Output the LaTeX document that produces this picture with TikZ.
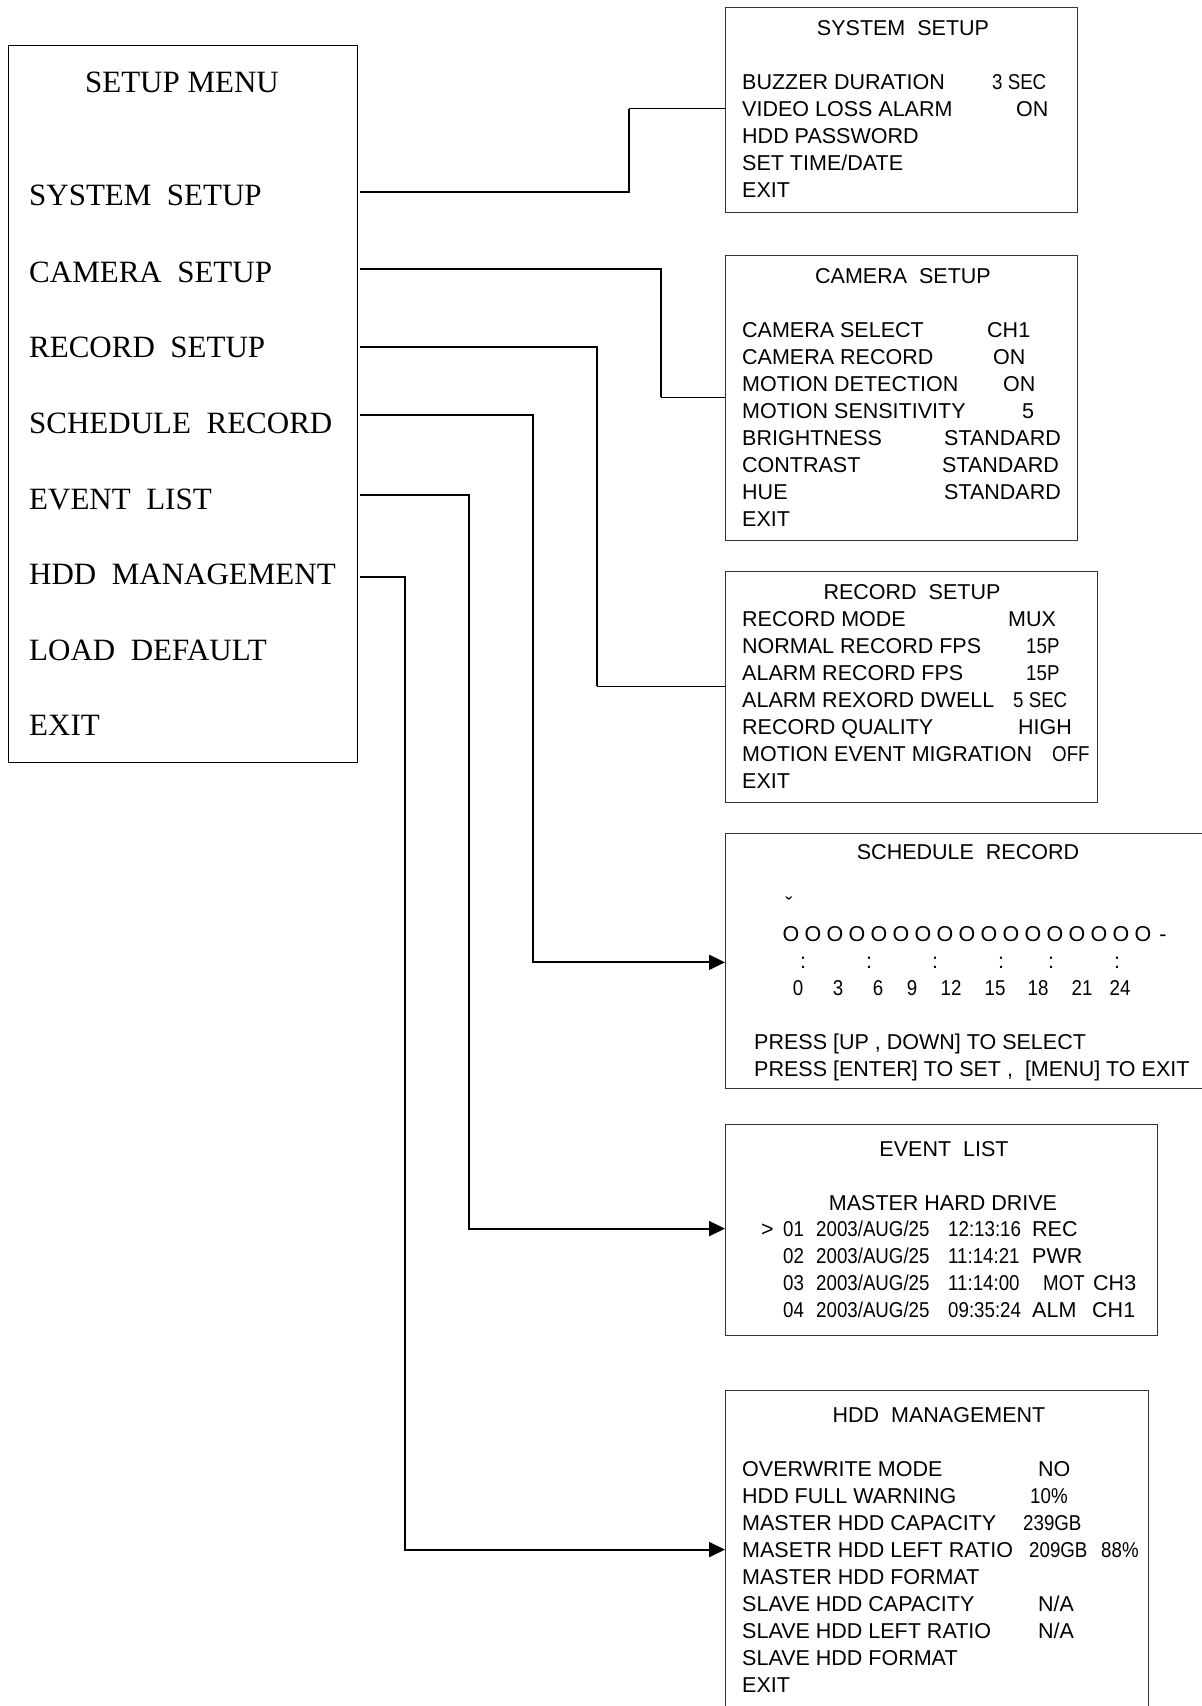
\documentclass[tikz,border=0pt]{standalone}
\usepackage{fontspec}
\setmainfont{Liberation Serif}
\newfontfamily\osdfont{Liberation Sans}
\newfontfamily\osdnarrow[FakeStretch=0.87]{Liberation Sans}
\usetikzlibrary{positioning}
\usetikzlibrary{arrows.meta}
\usetikzlibrary{calc}

\tikzset{
  panel/.style={rectangle,draw=black!80,line width=1pt,anchor=north west,inner sep=0pt,outer sep=0pt},
  menuitem/.style={anchor=base west,inner sep=0pt,font=\fontsize{31}{36}\selectfont},
  osd/.style={anchor=base west,inner sep=0pt,font=\osdfont\fontsize{21.5}{26}\selectfont},
  osdn/.style={osd,font=\osdnarrow\fontsize{21.5}{26}\selectfont},
  osdc/.style={osd,anchor=base},
  osdnc/.style={osdn,anchor=base},
  link/.style={line width=2pt},
  tail/.style={line width=1pt},
  arr/.style={line width=2pt,-{Triangle[length=16pt,width=15pt]}},
}

\begin{document}
\begin{tikzpicture}[x=1pt,y=-1pt]
\useasboundingbox (0,0) rectangle (1202,1706);
\clip (0,0) rectangle (1202,1706);

% main menu
\node at (8,45) [panel,draw=black,minimum width=349pt,minimum height=717pt] (menu) {};
\node at (182,92) [menuitem,anchor=base] (menu-title) {SETUP MENU};
\node at (29,205) [menuitem] (m-sys) {SYSTEM~~SETUP};
\node at (29,282) [menuitem] (m-cam) {CAMERA~~SETUP};
\node at (29,357) [menuitem] (m-rec) {RECORD~~SETUP};
\node at (29,433) [menuitem] (m-sch) {SCHEDULE~~RECORD};
\node at (29,509) [menuitem] (m-ev) {EVENT~~LIST};
\node at (29,584) [menuitem] (m-hdd) {HDD~~MANAGEMENT};
\node at (29,660) [menuitem] (m-load) {LOAD~~DEFAULT};
\node at (29,735) [menuitem] (m-exit) {EXIT};

% system setup
\node at (725,7) [panel,minimum width=352pt,minimum height=205pt] (sysbox) {};
\node at (903,35) [osdc] (sys-title) {SYSTEM~~SETUP};
\node at (742,89) [osd] (sys-buzz) {BUZZER DURATION};
\node at (742,116) [osd] (sys-video) {VIDEO LOSS ALARM};
\node at (742,143) [osd] (sys-pass) {HDD PASSWORD};
\node at (742,170) [osd] (sys-time) {SET TIME/DATE};
\node at (742,197) [osd] (sys-exit) {EXIT};
\node at (992,89) [osdn] (sys-buzz-v) {3 SEC};
\node at (1016,116) [osd] (sys-video-v) {ON};

% camera setup
\node at (725,255) [panel,minimum width=352pt,minimum height=285pt] (cambox) {};
\node at (903,283) [osdc] (cam-title) {CAMERA~~SETUP};
\node at (742,337) [osd] (cam-sel) {CAMERA SELECT};
\node at (742,364) [osd] (cam-rec) {CAMERA RECORD};
\node at (742,391) [osd] (cam-det) {MOTION DETECTION};
\node at (742,418) [osd] (cam-sens) {MOTION SENSITIVITY};
\node at (742,445) [osd] (cam-bri) {BRIGHTNESS};
\node at (742,472) [osd] (cam-con) {CONTRAST};
\node at (742,499) [osd] (cam-hue) {HUE};
\node at (742,526) [osd] (cam-exit) {EXIT};
\node at (987,337) [osd] (cam-sel-v) {CH1};
\node at (993,364) [osd] (cam-rec-v) {ON};
\node at (1003,391) [osd] (cam-det-v) {ON};
\node at (1022,418) [osd] (cam-sens-v) {5};
\node at (944,445) [osd] (cam-bri-v) {STANDARD};
\node at (942,472) [osd] (cam-con-v) {STANDARD};
\node at (944,499) [osd] (cam-hue-v) {STANDARD};

% record setup
\node at (725,571) [panel,minimum width=372pt,minimum height=231pt] (recbox) {};
\node at (912,599) [osdc] (rec-title) {RECORD~~SETUP};
\node at (742,626) [osd] (rec-mode) {RECORD MODE};
\node at (742,653) [osd] (rec-normal) {NORMAL RECORD FPS};
\node at (742,680) [osd] (rec-alarm) {ALARM RECORD FPS};
\node at (742,707) [osd] (rec-dwell) {ALARM REXORD DWELL};
\node at (742,734) [osd] (rec-qual) {RECORD QUALITY};
\node at (742,761) [osd] (rec-mig) {MOTION EVENT MIGRATION};
\node at (742,788) [osd] (rec-exit) {EXIT};
\node at (1008,626) [osd] (rec-mode-v) {MUX};
\node at (1026,653) [osdn] (rec-normal-v) {15P};
\node at (1026,680) [osdn] (rec-alarm-v) {15P};
\node at (1013,707) [osdn] (rec-dwell-v) {5 SEC};
\node at (1018,734) [osd] (rec-qual-v) {HIGH};
\node at (1052,761) [osdn] (rec-mig-v) {OFF};

% schedule record
\node at (725,833) [panel,minimum width=485pt,minimum height=255pt] (schbox) {};
\node at (968,859) [osdc] (sch-title) {SCHEDULE~~RECORD};
\node at (789,912) [osdc] (sch-mark) {ˇ};
\foreach \i in {0,...,16}
  \node at (791+22*\i,941) [osdc] (sch-o\i) {O};
\node at (1163,941) [osdc] (sch-dash) {-};
\foreach \x [count=\i from 0] in {803,869,935,1001,1051,1117}
  \node at (\x,968) [osdc] (sch-c\i) {:};
\foreach \h/\x in {0/798,3/838,6/878,9/912,12/951,15/995,18/1038,21/1082,24/1120}
  \node at (\x,995) [osdnc] (sch-h\h) {\h};
\node at (754,1049) [osd] (sch-help1) {PRESS [UP ,~DOWN] TO SELECT};
\node at (754,1076) [osd] (sch-help2) {PRESS [ENTER] TO SET ,~~[MENU] TO EXIT};

% event list
\node at (725,1124) [panel,minimum width=432pt,minimum height=211pt] (evbox) {};
\node at (944,1156) [osdc] (ev-title) {EVENT~~LIST};
\node at (943,1210) [osdc] (ev-drive) {MASTER HARD DRIVE};
\node at (761,1236) [osd] (ev-cursor) {>};
\node at (783,1236) [osdn] (ev-n1) {01};
\node at (816,1236) [osdn] (ev-d1) {2003/AUG/25};
\node at (948,1236) [osdn] (ev-t1) {12:13:16};
\node at (1032,1236) [osd] (ev-k1) {REC};
\node at (783,1263) [osdn] (ev-n2) {02};
\node at (816,1263) [osdn] (ev-d2) {2003/AUG/25};
\node at (948,1263) [osdn] (ev-t2) {11:14:21};
\node at (1032,1263) [osd] (ev-k2) {PWR};
\node at (783,1290) [osdn] (ev-n3) {03};
\node at (816,1290) [osdn] (ev-d3) {2003/AUG/25};
\node at (948,1290) [osdn] (ev-t3) {11:14:00};
\node at (1043,1290) [osdn] (ev-k3) {MOT};
\node at (1093,1290) [osd] (ev-c3) {CH3};
\node at (783,1317) [osdn] (ev-n4) {04};
\node at (816,1317) [osdn] (ev-d4) {2003/AUG/25};
\node at (948,1317) [osdn] (ev-t4) {09:35:24};
\node at (1032,1317) [osd] (ev-k4) {ALM};
\node at (1092,1317) [osd] (ev-c4) {CH1};

% hdd management
\node at (725,1390) [panel,minimum width=423pt,minimum height=330pt] (hddbox) {};
\node at (939,1422) [osdc] (hdd-title) {HDD~~MANAGEMENT};
\node at (742,1476) [osd] (hdd-over) {OVERWRITE MODE};
\node at (742,1503) [osd] (hdd-warn) {HDD FULL WARNING};
\node at (742,1530) [osd] (hdd-mcap) {MASTER HDD CAPACITY};
\node at (742,1557) [osd] (hdd-mleft) {MASETR HDD LEFT RATIO};
\node at (742,1584) [osd] (hdd-mfmt) {MASTER HDD FORMAT};
\node at (742,1611) [osd] (hdd-scap) {SLAVE HDD CAPACITY};
\node at (742,1638) [osd] (hdd-sleft) {SLAVE HDD LEFT RATIO};
\node at (742,1665) [osd] (hdd-sfmt) {SLAVE HDD FORMAT};
\node at (742,1692) [osd] (hdd-exit) {EXIT};
\node at (1038,1476) [osd] (hdd-over-v) {NO};
\node at (1030,1503) [osdn] (hdd-warn-v) {10\%};
\node at (1023,1530) [osdn] (hdd-mcap-v) {239GB};
\node at (1029,1557) [osdn] (hdd-mleft-v) {209GB};
\node at (1101,1557) [osdn] (hdd-mleft-p) {88\%};
\node at (1038,1611) [osd] (hdd-scap-v) {N/A};
\node at (1038,1638) [osd] (hdd-sleft-v) {N/A};

% connectors
\coordinate (j-sys) at (629,0);
\coordinate (j-cam) at (661,0);
\coordinate (j-rec) at (597,0);
\coordinate (j-sch) at (533,0);
\coordinate (j-ev) at (469,0);
\coordinate (j-hdd) at (405,0);
\coordinate (cam-mid) at ($(cam-det.west)!0.5!(cam-sens.west)$);
\coordinate (rec-mid) at ($(rec-alarm.west)!0.5!(rec-dwell.west)$);

\draw[link] ($(m-sys.east -| menu.east)+(3,-3)$) -| (j-sys |- sys-video.west);
\draw[tail] (j-sys |- sys-video.west) -- (sys-video.west -| sysbox.west);
\draw[link] ($(m-cam.east -| menu.east)+(3,-3)$) -| (j-cam |- cam-mid);
\draw[tail] (j-cam |- cam-mid) -- (cam-mid -| cambox.west);
\draw[link] ($(m-rec.east -| menu.east)+(3,0)$) -| (j-rec |- rec-mid);
\draw[tail] (j-rec |- rec-mid) -- (rec-mid -| recbox.west);
\draw[arr] ($(m-sch.east -| menu.east)+(3,-8)$) -| (j-sch |- sch-c0) -- (sch-c0 -| schbox.west);
\draw[arr] ($(m-ev.east -| menu.east)+(3,-4)$) -| (j-ev |- ev-n1) -- (ev-n1 -| evbox.west);
\draw[arr] ($(m-hdd.east -| menu.east)+(3,3)$) -| (j-hdd |- hdd-mleft) -- (hdd-mleft -| hddbox.west);
\end{tikzpicture}
\end{document}
